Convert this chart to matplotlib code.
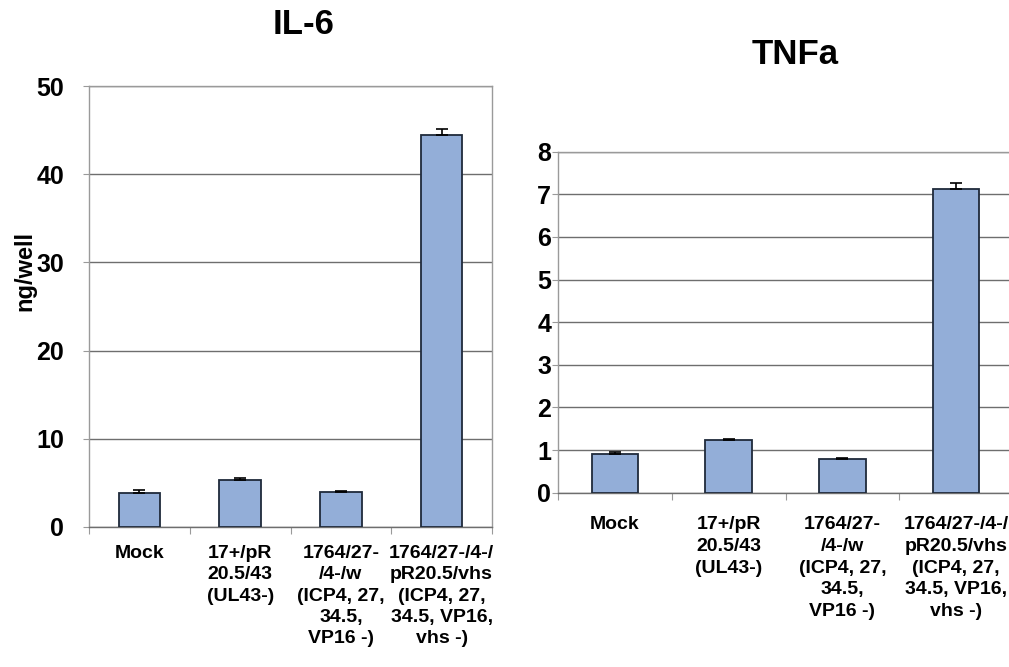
import numpy as np
import matplotlib
matplotlib.use('Agg')
import matplotlib.pyplot as plt

plt.rcParams['font.family'] = ['Liberation Sans', 'DejaVu Sans']
plt.rcParams['font.weight'] = 'bold'

# 数据
categories = ['Mock',
              '17+/pR\n20.5/43\n(UL43-)',
              '1764/27-\n/4-/w\n(ICP4, 27,\n34.5,\nVP16 -)',
              '1764/27-/4-/\npR20.5/vhs\n(ICP4, 27,\n34.5, VP16,\nvhs -)']
il6 = [3.8, 5.3, 4.0, 44.5]
il6_err = [0.4, 0.2, 0.05, 0.6]
tnfa = [0.91, 1.23, 0.80, 7.13]
tnfa_err = [0.04, 0.04, 0.01, 0.14]

bar_color = '#93aed8'
edge_color = '#1f2a3a'
grid_color = '#6e6e6e'
spine_color = '#9a9a9a'

W, H = 1009, 667
fig = plt.figure(figsize=(W / 100, H / 100), dpi=100)


def draw_panel(ax, vals, errs, ymax, step, ypad, xpad, xsize, lsp):
    x = np.arange(len(vals))
    ax.bar(x, vals, width=0.41, color=bar_color, edgecolor=edge_color,
           linewidth=1.3, zorder=3)
    ax.errorbar(x, vals, yerr=[np.zeros(len(errs)), errs], fmt='none',
                ecolor='black', elinewidth=1.2, capsize=4, capthick=1.2, zorder=4)
    ax.set_xlim(-0.5, len(vals) - 0.5)
    ax.set_ylim(0, ymax)
    ax.set_yticks(np.arange(0, ymax + step / 2, step))
    ax.yaxis.grid(True, color=grid_color, linewidth=1.0, zorder=0)
    ax.set_axisbelow(True)
    for s in ax.spines.values():
        s.set_color(spine_color)
        s.set_linewidth(1.0)
    ax.spines['bottom'].set_color(grid_color)
    # 分组边界刻度
    ax.set_xticks(np.arange(-0.5, len(vals)), minor=False)
    ax.set_xticklabels([])
    ax.tick_params(axis='x', which='major', length=5, color=spine_color)
    ax.set_xticks(x, minor=True)
    ax.set_xticklabels(categories, minor=True, fontsize=xsize, fontweight='bold',
                       linespacing=lsp)
    ax.tick_params(axis='x', which='minor', length=0, pad=xpad)
    ax.tick_params(axis='y', length=4, color=spine_color, labelsize=18, pad=ypad)
    for lab in ax.get_yticklabels():
        lab.set_fontweight('bold')


ax1 = fig.add_axes([89 / W, (H - 527) / H, (492 - 89) / W, (527 - 86) / H])
draw_panel(ax1, il6, il6_err, 50, 10, 14, 13, 14, 1.33)

ax2 = fig.add_axes([558 / W, (H - 492.7) / H, (1013 - 558) / W, (492.7 - 151.7) / H])
draw_panel(ax2, tnfa, tnfa_err, 8, 1, 1, 17, 14, 1.36)

fig.text(25 / W, 1 - 271 / H, 'ng/well', fontsize=17, fontweight='bold',
         rotation=90, ha='center', va='center')
fig.text(304 / W, 1 - 25 / H, 'IL-6', fontsize=25, fontweight='bold',
         ha='center', va='center')
fig.text(795 / W, 1 - 54 / H, 'TNFa', fontsize=25, fontweight='bold',
         ha='center', va='center')

plt.savefig('out.png', dpi=100)
